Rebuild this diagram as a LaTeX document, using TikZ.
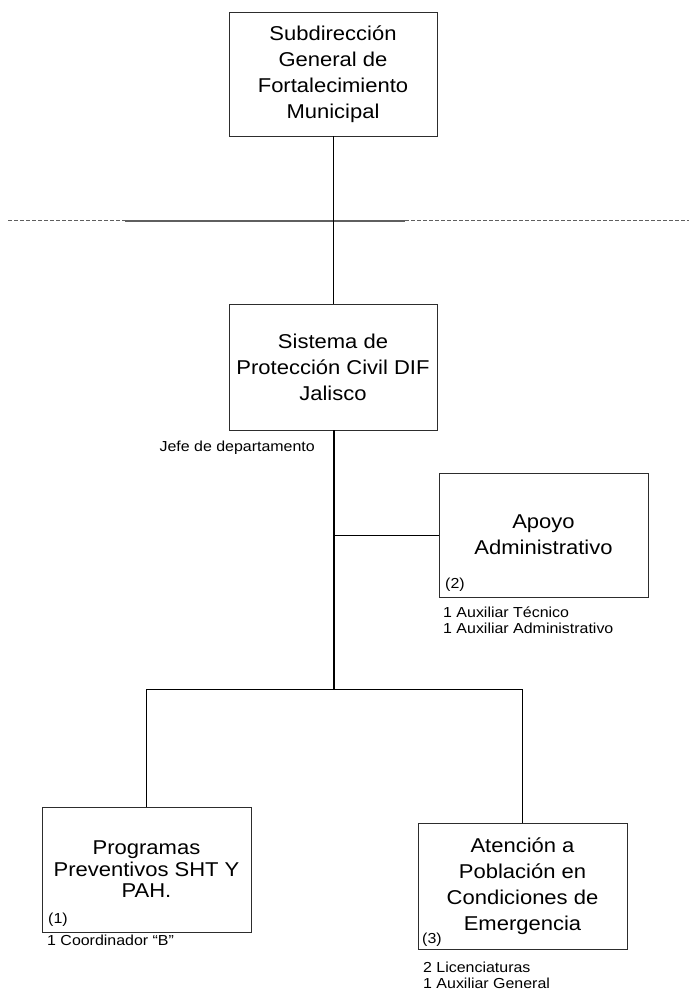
\documentclass[tikz,border=0pt]{standalone}
\usepackage{fontspec}
\setmainfont{Liberation Sans}[FakeStretch=1.1]
\usepackage{tikz}
\usetikzlibrary{positioning, calc}
\definecolor{boxgray}{RGB}{45, 45, 45}
\definecolor{tiergray}{RGB}{95, 95, 95}

\begin{document}
\begin{tikzpicture}[x=1pt, y=-1pt,
    unit/.style={draw=boxgray, line width=0.9pt, minimum width=208pt,
                 minimum height=124pt, inner sep=0pt, align=center,
                 font=\fontsize{20}{26}\selectfont},
    note/.style={inner sep=0pt, align=left, anchor=base west,
                 font=\fontsize{14.5}{16}\selectfont},
    link/.style={draw=black, line width=0.8pt},
    trunk/.style={draw=black, line width=2pt},
    tierline/.style={draw=tiergray, line width=1.2pt},
    tierdash/.style={draw=tiergray, line width=1pt, dash pattern=on 4pt off 2pt}
]
    \useasboundingbox (0,0) rectangle (689,992);

    % Top level
    \node[unit] (sub) at (333,74) {Subdirección\\General de\\Fortalecimiento\\Municipal};

    % Coordination level line
    \coordinate (tierA) at (8,221);
    \coordinate (tierB) at (125,221);
    \coordinate (tierD) at (405,221);
    \coordinate (tierE) at (689,221);
    \draw[tierdash] (tierA) -- (tierB);
    \draw[tierline] (tierB) -- (tierD);
    \draw[tierdash] (tierD) -- (tierE);

    % Department
    \node[unit, minimum height=126pt] (sist) at (333,367)
        {Sistema de\\Protección Civil DIF\\Jalisco};
    \node[note, anchor=base east] (jefe) at (315,451) {Jefe de departamento};

    % Support unit
    \node[unit, minimum width=209pt] (apoyo) at (543.5,535) {Apoyo\\Administrativo};
    \node[note] (apoyoNum) at (445,588) {(2)};
    \node[note] (apoyoStaff) at (443,633) {1 Auxiliar Técnico\\1 Auxiliar Administrativo};

    % Operative units
    \coordinate (split) at (334,689);
    \coordinate (splitL) at (146,689);
    \coordinate (splitR) at (522,689);

    \node[unit, minimum width=209pt, minimum height=125pt,
          font=\fontsize{20}{21.5}\selectfont] (prog) at (146.5,869.5)
        {Programas\\Preventivos SHT Y\\PAH.};
    \node[note] (progNum) at (48,923) {(1)};
    \node[note] (progStaff) at (47,945) {1 Coordinador “B”};

    \node[unit, minimum width=209pt, minimum height=126pt] (aten) at (522.5,886)
        {Atención a\\Población en\\Condiciones de\\Emergencia};
    \node[note] (atenNum) at (422,943) {(3)};
    \node[note] (atenStaff) at (423,988) {2 Licenciaturas\\1 Auxiliar General};

    % Connections
    \draw[link] (sub.south) -- (sist.north);
    \draw[trunk] (sist.south -| split) -- (split);
    \draw[link] (apoyo.west -| split) -- (apoyo.west);
    \draw[link] (splitL) -- (splitR);
    \draw[link] (splitL) -- (prog.north -| splitL);
    \draw[link] (splitR) -- (aten.north -| splitR);
\end{tikzpicture}
\end{document}
